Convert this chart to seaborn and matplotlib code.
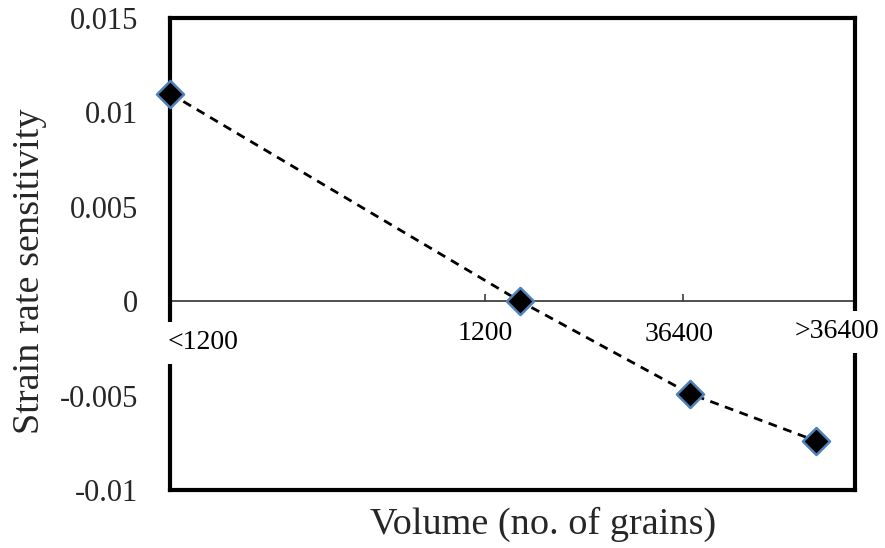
import matplotlib
matplotlib.use("Agg")
import matplotlib.pyplot as plt
import seaborn as sns
import pandas as pd

# Category labels and where they sit along the horizontal axis (axis runs 0..1)
categories = ["<1200", "1200", "36400", ">36400"]
category_pos = [0.0, 0.46, 0.749, 1.0]

# Measured points: position along the volume axis and strain rate sensitivity
grain_pos = [0.0, 0.511, 0.759, 0.943]
sensitivity = [0.011, 0.0, -0.0049, -0.0074]

y_ticks = [0.015, 0.01, 0.005, 0, -0.005, -0.01]
y_tick_labels = ["0.015", "0.01", "0.005", "0", "-0.005", "-0.01"]

df = pd.DataFrame({"pos": grain_pos, "srs": sensitivity})

sns.set_theme(style="white")
plt.rcParams["font.family"] = ["Liberation Serif", "DejaVu Serif"]

fig = plt.figure(figsize=(8.85, 5.48), dpi=100)
ax = fig.add_axes([170 / 885, 1 - 490 / 548, 685 / 885, 472 / 548])

# dashed trend line through the points
sns.lineplot(data=df, x="pos", y="srs", ax=ax, color="black", linewidth=2.0,
             zorder=3)
ax.lines[-1].set_dashes((3.2, 2.4))

# diamond markers
sns.scatterplot(data=df, x="pos", y="srs", ax=ax, marker="D", s=190,
                color="black", edgecolor="#4F81BD", linewidth=1.8,
                zorder=6, clip_on=False)

ax.set_xlim(0, 1)
ax.set_ylim(-0.01, 0.015)

# zero axis with upward tick marks at the inner categories
ax.axhline(0, color="#404040", linewidth=1.3, zorder=2)
ax.plot(category_pos[1:3], [0, 0], linestyle="none", marker=2, markersize=5,
        markeredgewidth=1.2, color="#404040", zorder=2)

# category labels on white boxes, below the zero axis
label_offsets = [(-2, -30), (0, -23), (-3, -24), (-13, -22)]
label_ha = ["left", "center", "center", "center"]
for name, xp, off, ha in zip(categories, category_pos, label_offsets, label_ha):
    ax.annotate(name, xy=(xp, 0), xytext=off, textcoords="offset points",
                ha=ha, va="center", fontsize=20, color="black",
                bbox=dict(boxstyle="square,pad=0.3", facecolor="white",
                          edgecolor="none"),
                zorder=5, annotation_clip=False)

ax.set_xticks([])
ax.set_yticks(y_ticks)
ax.set_yticklabels(y_tick_labels, fontsize=22)
ax.tick_params(axis="y", length=0, pad=23)
ax.set_xlabel("")
ax.set_ylabel("")

for sp in ax.spines.values():
    sp.set_visible(True)
    sp.set_color("black")
    sp.set_linewidth(3)

fig.text(543 / 885, 1 - 524 / 548, "Volume (no. of grains)", ha="center",
         va="center", fontsize=27.5)
fig.text(30 / 885, 1 - 271 / 548, "Strain rate sensitivity", ha="center",
         va="center", rotation=90, fontsize=27.5)

fig.savefig("out.png", dpi=100, facecolor="white")
